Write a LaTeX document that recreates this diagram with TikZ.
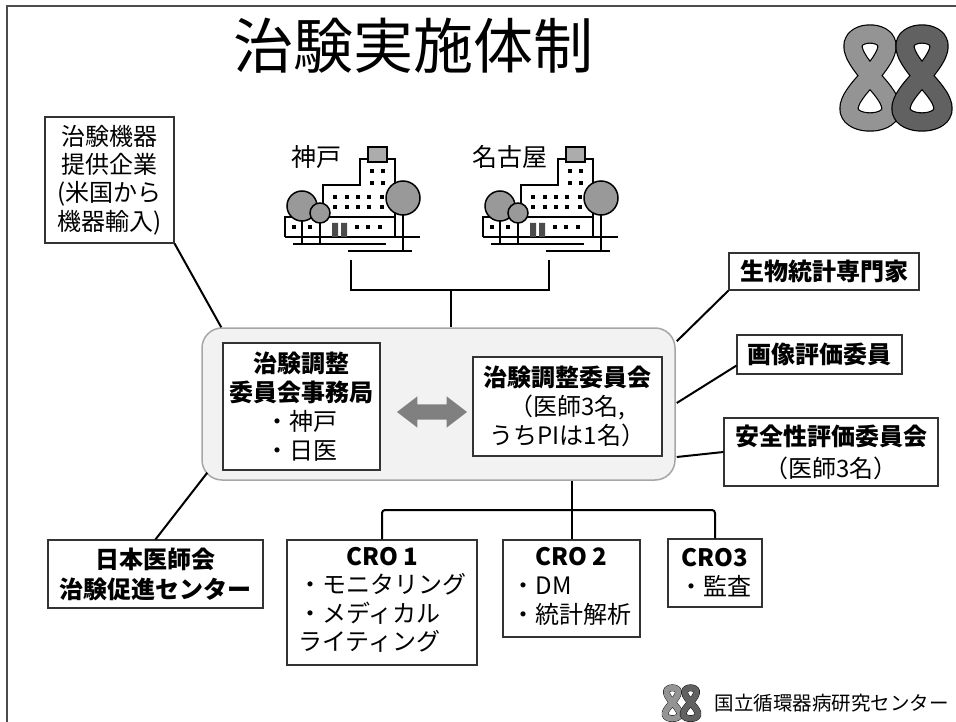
\documentclass[tikz,border=0pt]{standalone}
\usepackage{fontspec}
\setmainfont{Noto Sans CJK JP}
\usetikzlibrary{calc,shapes.arrows}

\definecolor{panelgray}{gray}{0.95}
\definecolor{arrowgray}{gray}{0.5}
\definecolor{treegray}{gray}{0.6}
\definecolor{loopgray}{gray}{0.58}
\definecolor{loopdark}{gray}{0.38}

% the centre's double loop mark, #1,#2 = centre, #3 = scale
\newcommand\drawlogo[3]{%
  \foreach \dx/\col in {-26/loopgray, 26/loopdark}{
    \draw[line width=1.2pt*#3, double=\col, double distance=17pt*#3]
      plot[smooth cycle, domain=0:350, samples=36, variable=\t]
      ({#1+(\dx+((sin(\t)>0)?17:21)*sin(2*\t))*#3},
       {#2-((sin(\t)>0)?42:46)*sin(\t)*#3});
  }}

\tikzset{
  box/.style={draw=black!80, line width=1.2pt, fill=white, align=center,
    inner sep=0pt, font=\fontsize{24}{29}\selectfont},
  panel/.style={draw=gray!70, line width=1.5pt, fill=panelgray,
    rounded corners=20pt},
  link/.style={line width=2pt},
  place/.style={font=\fontsize{25}{30}\selectfont},
  hospital/.pic={
    % building outline
    \draw[line width=2pt] (0,90) -- (0,70) -- (38,70) -- (38,38) -- (75,38)
      -- (75,12) -- (110,12) -- (110,90);
    \draw[line width=2pt] (38,70) -- (110,70);
    \draw[line width=2pt] (0,90) -- (135,90);
    \draw[line width=2pt] (8,97) -- (101,97);
    \draw[line width=2pt] (63,104) -- (127,104);
    \filldraw[fill=gray!65, line width=1.2pt] (83,0) rectangle (102,15);
    % windows and door
    \foreach \wx/\wy in {87/24,98/24,87/36,98/36,
        50/50,62/50,73/50,84/50,97/50,50/60,62/60,73/60,84/60,97/60,
        9/80,25/80,72/80,83/80,95/80}
      \fill (\wx-2,\wy-2) rectangle ++(4,4);
    \fill[gray!60!black] (47,76) rectangle (53,90) (56,76) rectangle (62,90);
    % trees
    \draw[line width=2pt] (118,68) -- (118,104) (17,74) -- (17,97)
      (35,76) -- (35,97);
    \filldraw[fill=treegray, line width=1.5pt] (17,59) circle[radius=15];
    \filldraw[fill=treegray, line width=1.5pt] (35,66) circle[radius=10];
    \filldraw[fill=treegray, line width=1.5pt] (118,51) circle[radius=17];
  }
}

\begin{document}
\begin{tikzpicture}[x=1pt,y=-1pt]
\useasboundingbox (0,0) rectangle (956,722);
\draw[line width=1.5pt, black!70] (956,6) -- (7,6) -- (7,722);

\node (title) at (413,46) {\fontsize{60}{70}\selectfont 治験実施体制};
\drawlogo{896}{76}{1}

% the two hospitals
\pic at (285,147) {hospital};
\pic at (483,147) {hospital};
\node[place] (kobeName) at (316,157) {神戸};
\node[place] (nagoyaName) at (510,157) {名古屋};
\coordinate (kobe) at (351,260);
\coordinate (nagoya) at (549,260);
\coordinate (hub) at (451,290);

\node[panel, minimum width=473pt, minimum height=152pt] (core) at (438.5,404) {};
\node[box, minimum width=157pt, minimum height=127pt] (office) at (301.5,406.5)
  {\bfseries 治験調整\\\bfseries 委員会事務局\\・神戸\\・日医};
\node[box, minimum width=189pt, minimum height=99pt] (committee) at (567.5,406.5)
  {\bfseries 治験調整委員会\\（医師3名,\\うちPIは1名）};
\node[double arrow, fill=arrowgray, minimum height=70pt, inner xsep=0pt,
  inner ysep=7.5pt, double arrow head extend=8pt, double arrow tip angle=75]
  (swap) at (432,412) {};

\node[box, minimum width=129pt, minimum height=126pt,
  font=\fontsize{24}{28.3}\selectfont] (supplier) at (109.5,180)
  {治験機器\\提供企業\\(米国から\\機器輸入)};
\node[box, minimum width=190pt, minimum height=37pt] (biostat) at (824,271.5)
  {\bfseries 生物統計専門家};
\node[box, minimum width=165pt, minimum height=39pt] (imaging) at (819.5,354.5)
  {\bfseries 画像評価委員};
\node[box, minimum width=214pt, minimum height=68pt,
  font=\fontsize{24}{32}\selectfont] (safety) at (831,452)
  {\bfseries 安全性評価委員会\\（医師3名）};
\node[box, minimum width=215pt, minimum height=68pt,
  font=\fontsize{24}{30}\selectfont] (jma) at (155.5,574)
  {\bfseries 日本医師会\\\bfseries 治験促進センター};

\node[box, minimum width=190pt, minimum height=125pt,
  font=\fontsize{24}{27}\selectfont] (cro1) at (382,602.5)
  {\begin{tabular}{@{}l@{}}\multicolumn{1}{@{}c@{}}{\bfseries CRO 1}\\
   ・モニタリング\\・メディカル\\ライティング\end{tabular}};
\node[box, minimum width=137pt, minimum height=97pt] (cro2) at (571.5,588.5)
  {\begin{tabular}{@{}l@{}}\multicolumn{1}{@{}c@{}}{\bfseries CRO 2}\\
   ・DM\\・統計解析\end{tabular}};
\node[box, minimum width=94pt, minimum height=68pt] (cro3) at (715,573)
  {\bfseries CRO3\\・監査};
\coordinate (crohub) at (572,510);

% connectors
\draw[link] (kobe) |- (hub) -| (nagoya);
\draw[link] (hub) -- (hub |- core.north);
\draw[link] (supplier.south east) -- ($(core.north west)+(20,0)$);
\draw[link] (jma.north) -- ($(core.south west)+(6,-8)$);
\draw[link] (biostat.south west) -- ($(core.north east)+(1,14)$);
\draw[link] ($(imaging.south west)+(0,-9)$) -- ($(core.east)+(1,-1)$);
\draw[link] (safety.west) -- ($(core.east)+(1,53)$);
\draw[link] (crohub |- core.south) -- (crohub);
\draw[link, rounded corners=3pt] (cro1.north) |- (crohub) -| (cro3.north);
\draw[link] (crohub) -- (crohub |- cro2.north);

% footer
\drawlogo{681.5}{702.5}{0.35}
\node[anchor=west] (ncvc) at (711,703)
  {\fontsize{19.5}{22}\selectfont 国立循環器病研究センター};
\end{tikzpicture}
\end{document}
